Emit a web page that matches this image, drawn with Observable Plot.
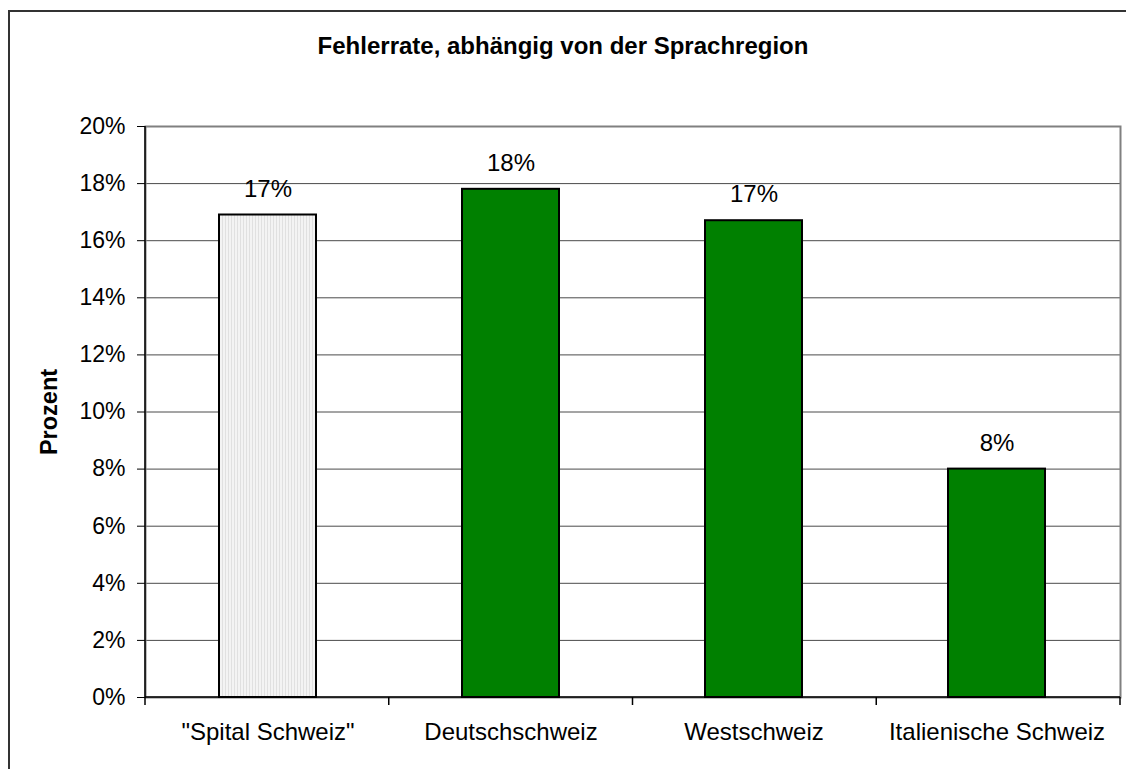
<!DOCTYPE html>
<html>
<head>
<meta charset="utf-8">
<script src="https://cdn.jsdelivr.net/npm/d3@7"></script>
<script src="https://cdn.jsdelivr.net/npm/@observablehq/plot@0.6"></script>
<style>
  html, body { margin: 0; padding: 0; background: #fff; }
  #wrap { position: relative; width: 1126px; height: 769px; overflow: hidden; font-family: Arial, "Liberation Sans", sans-serif; }
  #outer { position: absolute; left: 8px; top: 10px; width: 1300px; height: 1000px; border-left: 2px solid #333; border-top: 2px solid #333; box-sizing: border-box; }
  #title { position: absolute; left: 0; width: 1126px; top: 34px; line-height: 24px; text-align: center; font-weight: bold; font-size: 24px; color: #000; }
  #chart { position: absolute; left: 0; top: 0; }
</style>
</head>
<body>
<div id="wrap">
  <div id="outer"></div>
  <div id="chart"></div>
  <div id="title">Fehlerrate, abhängig von der Sprachregion</div>
</div>
<script>
const categories = ['"Spital Schweiz"', "Deutschschweiz", "Westschweiz", "Italienische Schweiz"];
const values = [0.169, 0.178, 0.167, 0.080];
const valueLabels = ["17%", "18%", "17%", "8%"];
const fills = ["url(#stripes)", "#008000", "#008000", "#008000"];
const yTicks = [0, 0.02, 0.04, 0.06, 0.08, 0.10, 0.12, 0.14, 0.16, 0.18, 0.20];
const yAxisLabel = "Prozent";

const data = categories.map((c, i) => ({cat: c, value: values[i], label: valueLabels[i], fill: fills[i]}));

const chart = Plot.plot({
  width: 1126,
  height: 769,
  marginLeft: 145,
  marginRight: 6,
  marginTop: 126,
  marginBottom: 72,
  style: {fontFamily: 'Arial, "Liberation Sans", sans-serif', fontSize: "23px", color: "#000", background: "transparent"},
  x: {domain: categories, paddingInner: 0.6, paddingOuter: 0.3, label: null},
  y: {domain: [0, 0.2], label: null},
  marks: [
    Plot.ruleY(yTicks.slice(1, -1), {stroke: "#4a4a4a", strokeWidth: 1}),
    Plot.frame({stroke: "#808080", strokeWidth: 2}),
    Plot.barY(data, {x: "cat", y: "value", fill: "fill", stroke: "#000", strokeWidth: 2}),
    Plot.axisY({ticks: yTicks, tickFormat: d3.format(".0%"), tickSize: 8, tickPadding: 12, fontSize: 23, label: null, stroke: "#000"}),
    Plot.axisX({tickSize: 0, tickPadding: 25, fontSize: 24, label: null}),
    Plot.text(data, {x: "cat", y: "value", text: "label", dy: -26, fontSize: 24}),
    Plot.text([yAxisLabel], {frameAnchor: "left", rotate: -90, dx: -96, fontWeight: "bold", textAnchor: "middle", fontSize: 23.5}),
    (index, scales, values, dims) => {
      const {x} = scales;
      const {width, height, marginLeft, marginRight, marginTop, marginBottom} = dims;
      const n = categories.length;
      const step = (width - marginLeft - marginRight) / n;
      const yb = height - marginBottom;
      const bounds = d3.range(n + 1).map(i => marginLeft + i * step);
      const g = d3.create("svg:g");
      for (const b of bounds) {
        g.append("line").attr("x1", b).attr("x2", b)
          .attr("y1", yb).attr("y2", yb + 8)
          .attr("stroke", "#000").attr("stroke-width", 1.5);
      }
      g.append("line").attr("x1", marginLeft).attr("x2", marginLeft)
        .attr("y1", marginTop).attr("y2", yb).attr("stroke", "#000").attr("stroke-width", 1.5);
      g.append("line").attr("x1", marginLeft).attr("x2", width - marginRight)
        .attr("y1", yb).attr("y2", yb).attr("stroke", "#000").attr("stroke-width", 1.5);
      return g.node();
    }
  ]
});

// stripes pattern for the reference bar
const ns = "http://www.w3.org/2000/svg";
const defs = document.createElementNS(ns, "defs");
defs.innerHTML = '<pattern id="stripes" patternUnits="userSpaceOnUse" width="3" height="10"><rect width="3" height="10" fill="#f3f3f3"/><rect width="1" height="10" fill="#e0e0e0"/></pattern>';
chart.insertBefore(defs, chart.firstChild);

document.getElementById("chart").appendChild(chart);
</script>
</body>
</html>
